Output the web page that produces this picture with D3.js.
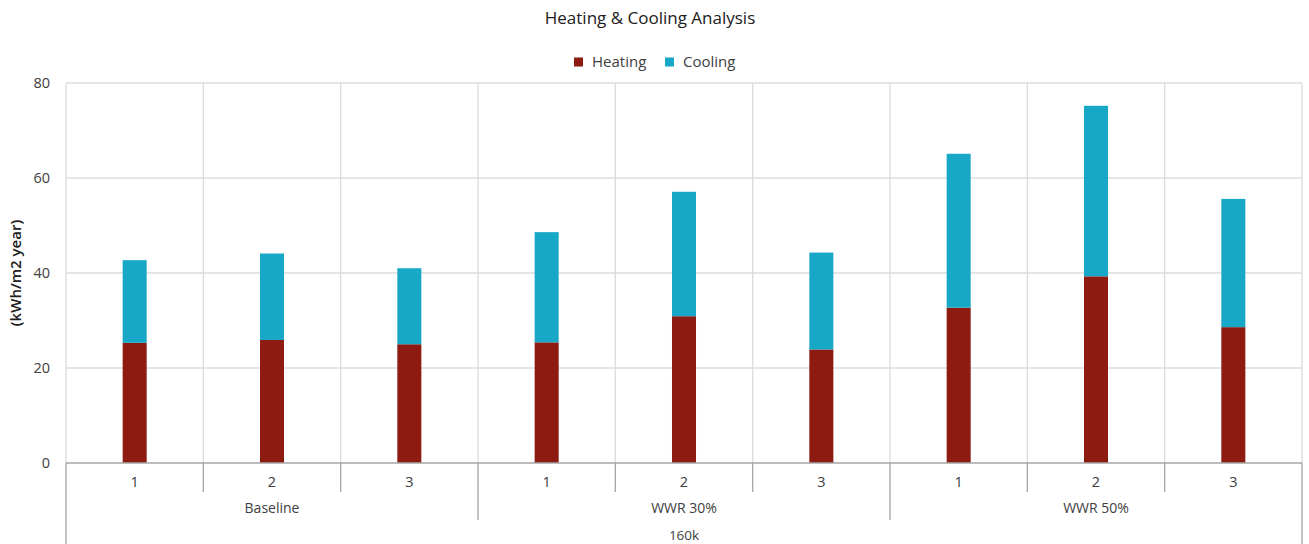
<!DOCTYPE html>
<html>
<head>
<meta charset="utf-8">
<script src="https://cdn.jsdelivr.net/npm/d3@7"></script>
<style>
  html, body { margin: 0; padding: 0; background: #fff; }
  svg { display: block; font-family: "Open Sans", "Noto Sans", sans-serif; }
</style>
</head>
<body>
<svg id="chart" width="1309" height="544"></svg>
<script>
// Scenario groups and the runs within each
const groups = ["Baseline", "WWR 30%", "WWR 50%"];
const runs = ["1", "2", "3"];
const outerLabel = "160k";

// Annual energy demand (kWh/m2 year) per scenario run, in group order
const heating = [25.3, 25.9, 25.0, 25.4, 30.9, 23.9, 32.7, 39.3, 28.6];
const cooling = [17.4, 18.2, 16.0, 23.2, 26.2, 20.4, 32.4, 35.9, 27.0];

const yTicks = [0, 20, 40, 60, 80];
const seriesNames = ["Heating", "Cooling"];
const seriesColors = ["#8d1b12", "#18a8c7"];

const W = 1309, H = 544;
const margin = { left: 66, right: 7, top: 83, bottom: 81 };
const plotW = W - margin.left - margin.right;
const zeroY = H - margin.bottom;

const svg = d3.select("#chart");
const textColor = "#404040";
const gridColor = "#dcdcdc";
const axisColor = "#a6a6a6";

// One band per run, flattened across the groups
const keys = [];
groups.forEach(g => runs.forEach(r => keys.push(g + "|" + r)));

const x = d3.scaleBand().domain(keys).range([margin.left, margin.left + plotW]).padding(0);
const y = d3.scaleLinear().domain([0, 80]).range([zeroY, margin.top]);

// Horizontal gridlines
svg.append("g").selectAll("line").data(yTicks.filter(t => t > 0)).join("line")
  .attr("x1", margin.left).attr("x2", margin.left + plotW)
  .attr("y1", d => y(d)).attr("y2", d => y(d))
  .attr("stroke", gridColor).attr("stroke-width", 1.3);

// Vertical gridlines at the run boundaries
const bounds = keys.map(k => x(k)).concat([margin.left + plotW]);
svg.append("g").selectAll("line").data(bounds).join("line")
  .attr("x1", d => d).attr("x2", d => d)
  .attr("y1", y(80)).attr("y2", zeroY)
  .attr("stroke", gridColor).attr("stroke-width", 1.3);

// Stacked bars
const rows = keys.map((k, i) => ({ key: k, Heating: heating[i], Cooling: cooling[i] }));
const stacked = d3.stack().keys(seriesNames)(rows);
const barW = x.bandwidth() * 0.175;

svg.append("g").selectAll("g").data(stacked).join("g")
  .attr("fill", (d, i) => seriesColors[i])
  .selectAll("rect").data(d => d).join("rect")
  .attr("x", d => x(d.data.key) + x.bandwidth() / 2 - barW / 2)
  .attr("width", barW)
  .attr("y", d => y(d[1]))
  .attr("height", d => y(d[0]) - y(d[1]));

// Y axis tick labels
const yAxis = d3.axisLeft(y).tickValues(yTicks).tickSize(0).tickPadding(16);
const yg = svg.append("g").attr("transform", `translate(${margin.left},0)`).call(yAxis);
yg.select(".domain").remove();
yg.selectAll("text").attr("fill", textColor).style("font-size", "14.5px")
  .style("font-family", "'Open Sans', sans-serif");

// Y axis title
svg.append("text")
  .attr("transform", `translate(17,${y(40)}) rotate(-90)`)
  .attr("text-anchor", "middle").attr("dominant-baseline", "middle")
  .attr("fill", "#202020").style("font-size", "15px").style("font-weight", 600)
  .text("(kWh/m2 year)");

// Category axis baseline
svg.append("line")
  .attr("x1", margin.left).attr("x2", margin.left + plotW)
  .attr("y1", zeroY).attr("y2", zeroY)
  .attr("stroke", axisColor).attr("stroke-width", 1.3);

// Multi-level category ticks
const runTickBottom = zeroY + 29;
const groupTickBottom = zeroY + 57;
const tickG = svg.append("g").attr("stroke", axisColor).attr("stroke-width", 1.3);
bounds.forEach((b, i) => {
  let y2;
  if (i === 0 || i === bounds.length - 1) y2 = H;
  else if (i % runs.length === 0) y2 = groupTickBottom;
  else y2 = runTickBottom;
  tickG.append("line").attr("x1", b).attr("x2", b).attr("y1", zeroY).attr("y2", y2);
});

// Run labels
svg.append("g").selectAll("text").data(keys).join("text")
  .attr("x", d => x(d) + x.bandwidth() / 2)
  .attr("y", zeroY + 19)
  .attr("dy", "0.35em")
  .attr("text-anchor", "middle").attr("fill", textColor).style("font-size", "14.5px")
  .text(d => d.split("|")[1]);

// Group labels
svg.append("g").selectAll("text").data(groups).join("text")
  .attr("x", g => {
    const first = x(g + "|" + runs[0]);
    const last = x(g + "|" + runs[runs.length - 1]) + x.bandwidth();
    return (first + last) / 2;
  })
  .attr("y", zeroY + 45)
  .attr("dy", "0.35em")
  .attr("text-anchor", "middle").attr("fill", textColor).style("font-size", "14px")
  .text(d => d);

// Outer level label
svg.append("text")
  .attr("x", margin.left + plotW / 2).attr("y", zeroY + 72).attr("dy", "0.35em")
  .attr("text-anchor", "middle").attr("fill", textColor).style("font-size", "13.5px")
  .text(outerLabel);

// Title
svg.append("text")
  .attr("x", 650).attr("y", 18).attr("dy", "0.35em")
  .attr("text-anchor", "middle").attr("fill", "#202020").style("font-size", "17px")
  .text("Heating & Cooling Analysis");

// Legend
const legend = svg.append("g").attr("transform", "translate(574,62)");
const legendOffsets = [0, 91];
seriesNames.forEach((name, i) => {
  const g = legend.append("g").attr("transform", `translate(${legendOffsets[i]},0)`);
  g.append("rect").attr("x", 0).attr("y", -4.5).attr("width", 9).attr("height", 9)
    .attr("fill", seriesColors[i]);
  g.append("text").attr("x", 18).attr("y", 0).attr("dy", "0.35em")
    .attr("fill", textColor).style("font-size", "15px").text(name);
});
</script>
</body>
</html>
